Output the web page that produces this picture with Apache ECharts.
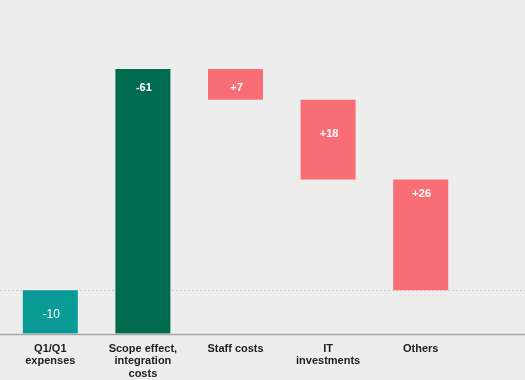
<!DOCTYPE html>
<html>
<head>
<meta charset="utf-8">
<script src="https://cdn.jsdelivr.net/npm/echarts@6/dist/echarts.min.js"></script>
<style>
  html, body { margin: 0; padding: 0; background: #ededed; }
  #chart { width: 525px; height: 380px; }
</style>
</head>
<body>
<div id="chart"></div>
<script>
// ---- data ----
var categories = ['Q1/Q1\nexpenses', 'Scope effect,\nintegration\ncosts', 'Staff costs', 'IT\ninvestments', 'Others'];
var values = [-10, -61, 7.1, 18.4, 25.5];
var valueLabels = ['-10', '-61', '+7', '+18', '+26'];

// ---- styles ----
var barColors = ['#0b9b97', '#016b4f', '#f86e74', '#f86e74', '#f86e74'];
var labelBold = [false, true, true, true, true];
var labelDy = [25, 19, 19, 34, 14];   // px below bar top

// waterfall ranges: cumulated from the right, first bar is the total
var ranges = new Array(values.length);
var level = 0;
for (var i = values.length - 1; i >= 1; i--) {
  var start = level;
  level = level + values[i];
  ranges[i] = [start, level];
}
ranges[0] = [0, values[0]];

var seriesData = ranges.map(function (r, i) { return [i, r[0], r[1]]; });

var chart = echarts.init(document.getElementById('chart'));
var option = {
  backgroundColor: '#ededed',
  animation: false,
  grid: { left: 4, right: 58, top: 69, bottom: 46, containLabel: false },
  xAxis: {
    type: 'category',
    data: categories,
    axisLine: { show: false },
    axisTick: { show: false },
    axisLabel: {
      color: '#222',
      fontFamily: 'Liberation Sans, Arial, sans-serif',
      fontSize: 11,
      fontWeight: 'bold',
      lineHeight: 12.5,
      margin: 9,
      interval: 0
    }
  },
  yAxis: {
    type: 'value',
    min: -10,
    max: 51,
    show: false,
    splitLine: { show: false }
  },
  series: [{
    type: 'custom',
    data: seriesData,
    z: 5,
    renderItem: function (params, api) {
      var idx = api.value(0);
      var p1 = api.coord([idx, api.value(1)]);
      var p2 = api.coord([idx, api.value(2)]);
      var w = 55;
      var top = Math.min(p1[1], p2[1]);
      var h = Math.abs(p1[1] - p2[1]);
      return {
        type: 'group',
        children: [{
          type: 'rect',
          shape: { x: p1[0] - w / 2, y: top, width: w, height: h },
          style: { fill: barColors[idx] }
        }, {
          type: 'text',
          style: {
            x: p1[0] + 1,
            y: top + labelDy[idx],
            text: valueLabels[idx],
            fill: '#fff',
            font: (labelBold[idx] ? 'bold 11px' : '12px') + ' "Liberation Sans", Arial, sans-serif',
            align: 'center',
            verticalAlign: 'middle'
          }
        }]
      };
    }
  }]
};
chart.setOption(option);

// full-width reference lines positioned via the y scale
var yZero = chart.convertToPixel({ yAxisIndex: 0 }, 0);
var yBase = chart.convertToPixel({ yAxisIndex: 0 }, -10);
chart.setOption({
  graphic: [{
    type: 'line',
    z: 1,
    shape: { x1: 0, y1: Math.round(yZero) + 0.5, x2: 525, y2: Math.round(yZero) + 0.5 },
    style: { stroke: '#cdcdcd', lineWidth: 1, lineDash: [2, 2] }
  }, {
    type: 'line',
    z: 10,
    shape: { x1: 0, y1: Math.round(yBase) + 0.5, x2: 525, y2: Math.round(yBase) + 0.5 },
    style: { stroke: '#a9a9a9', lineWidth: 1.5 }
  }]
});
</script>
</body>
</html>
